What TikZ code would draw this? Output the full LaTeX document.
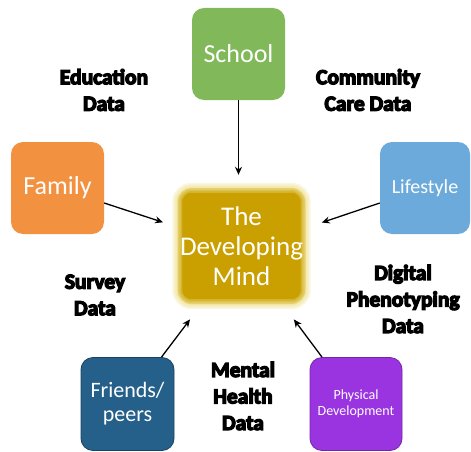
\documentclass[tikz,border=0pt]{standalone}
\usepackage{fontspec}
\setmainfont{Carlito}
\newfontfamily\heavyfont{Carlito}[BoldFeatures={FakeBold=6}]
\usepackage{tikz}
\usetikzlibrary{arrows.meta, positioning}
\definecolor{schoolgreen}{RGB}{129, 184, 90}
\definecolor{familyorange}{RGB}{242, 146, 65}
\definecolor{lifeblue}{RGB}{107, 170, 219}
\definecolor{peerblue}{RGB}{37, 96, 139}
\definecolor{physpurple}{RGB}{154, 52, 224}
\definecolor{mindgold}{RGB}{201, 160, 0}
\definecolor{mindglow}{RGB}{240, 226, 150}
\tikzstyle{box} = [rectangle, rounded corners=12pt, minimum width=93pt, minimum height=92pt, text centered, align=center, text=white, inner sep=2pt]
\tikzstyle{hub} = [rectangle, rounded corners=14pt, minimum width=128pt, minimum height=116pt, text centered, align=center, text=white, fill=mindgold, font=\fontsize{27}{30}\selectfont]
\tikzstyle{datalabel} = [align=center, text=black, font=\heavyfont\bfseries\fontsize{21.5}{26.5}\selectfont]
\tikzstyle{flow} = [line width=1.3pt, -{Stealth[length=8pt, width=7pt]}]

\begin{document}
\begin{tikzpicture}[x=1pt, y=-1pt]
    \useasboundingbox (0,0) rectangle (471,452);

    % Centre
    \node[hub] (mind) at (241.5, 246) {};
    \foreach \w/\o in {10/0.3, 7/0.3, 4/0.35, 1.5/0.4}
        \draw[mindglow, line width=\w pt, opacity=\o, rounded corners=14pt] (mind.north west) rectangle (mind.south east);
    \node[hub, fill=none] at (mind) {The\\Developing\\Mind};

    % Sources
    \node[box, fill=schoolgreen, font=\fontsize{26}{30}\selectfont] (school) at (238.5, 54) {School};
    \node[box, fill=familyorange, font=\fontsize{26}{30}\selectfont] (family) at (57.5, 188) {Family};
    \node[box, fill=lifeblue, minimum width=90pt, font=\fontsize{20}{24}\selectfont] (lifestyle) at (425, 188) {Lifestyle};
    \node[box, fill=peerblue, draw=peerblue!70!black, thick, minimum height=93pt, font=\fontsize{22}{24}\selectfont] (friends) at (127.5, 404) {Friends/\\peers};
    \node[box, fill=physpurple, draw=physpurple!75!black, thick, minimum width=92pt, minimum height=93pt, font=\fontsize{14}{16}\selectfont] (physical) at (356, 404) {Physical\\Development};

    % Data labels
    \node[datalabel] (edu) at (104, 90) {Education\\Data};
    \node[datalabel] (care) at (368, 90) {Community\\Care Data};
    \node[datalabel] (survey) at (95, 295) {Survey\\Data};
    \node[datalabel] (digital) at (403, 299) {Digital\\Phenotyping\\Data};
    \node[datalabel] (mental) at (243, 396) {Mental\\Health\\Data};

    % Arrows into the centre
    \draw[flow, shorten >=13pt] (school.south) -- (school.south |- mind.north);
    \draw[flow, shorten >=15pt] ([yshift=-15pt]family.east) -- ([yshift=19pt]mind.west);
    \draw[flow, shorten >=17pt] ([yshift=-15pt]lifestyle.west) -- ([yshift=18pt]mind.east);
    \draw[flow, shorten >=19pt] ([xshift=34pt]friends.north) -- ([xshift=-40pt]mind.south);
    \draw[flow, shorten >=19pt] ([xshift=-34pt]physical.north) -- ([xshift=41pt]mind.south);
\end{tikzpicture}
\end{document}
